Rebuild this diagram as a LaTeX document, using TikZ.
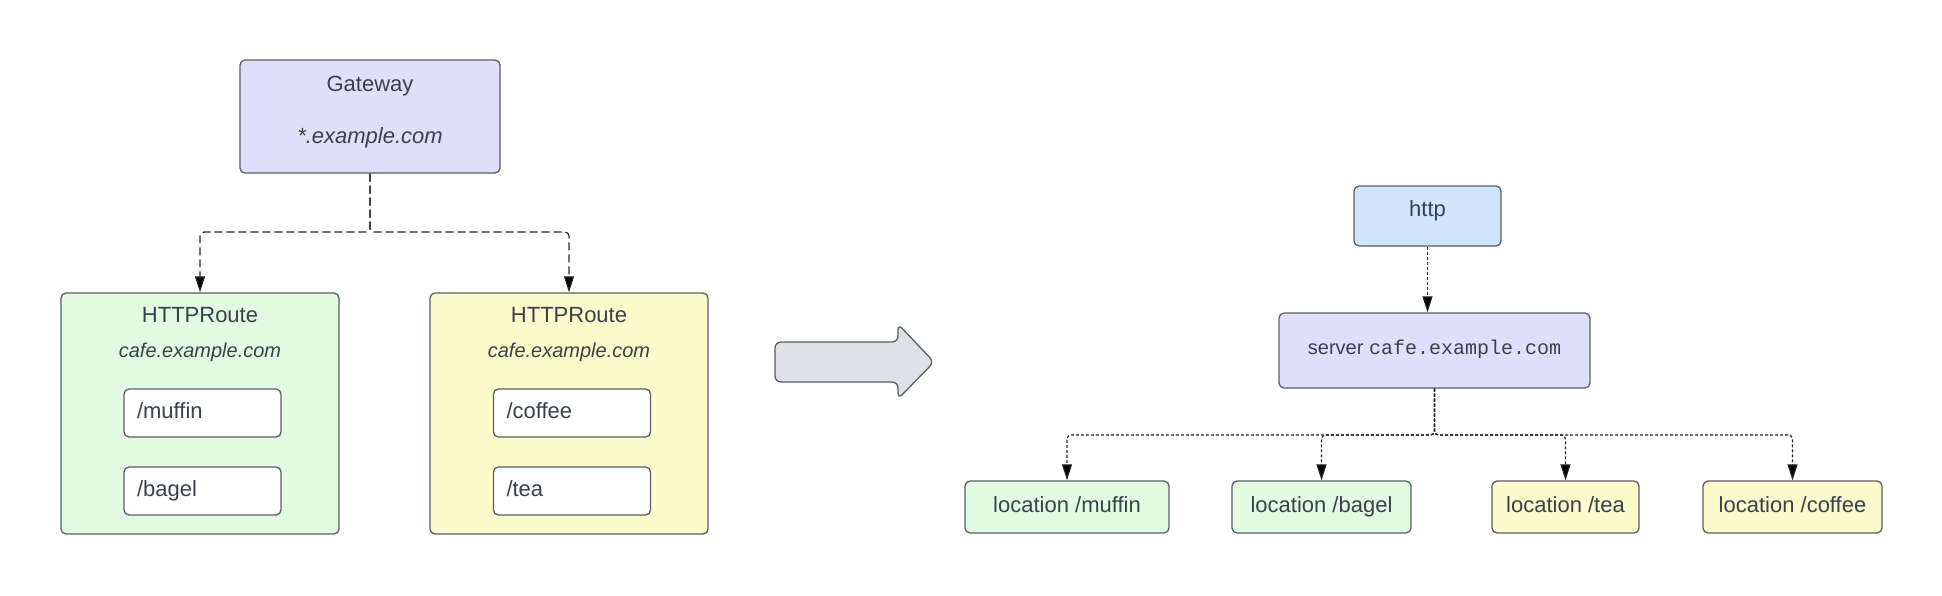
\documentclass[tikz,border=0pt]{standalone}
\usepackage{fontspec}
\setmainfont{Liberation Sans}
\setmonofont{Liberation Mono}
\usetikzlibrary{arrows.meta,positioning}
\definecolor{lavender}{HTML}{DFDFFC}
\definecolor{mint}{HTML}{E2FAE2}
\definecolor{lemon}{HTML}{FBFACB}
\definecolor{sky}{HTML}{CFE4FF}
\definecolor{steel}{HTML}{DFE1E6}
\definecolor{edge}{HTML}{5A5E66}
\definecolor{ink}{HTML}{3A414B}

\begin{document}
\begin{tikzpicture}
[x=0.5pt,y=-0.5pt,
Box/.style={rectangle,rounded corners=2.5pt,draw=edge,line width=0.65pt,text=ink,font=\fontsize{11}{13}\selectfont},
GwNode/.style={Box,fill=lavender,minimum width=130pt,minimum height=56.5pt},
RouteGreen/.style={Box,fill=mint,minimum width=139pt,minimum height=120.5pt},
RouteYellow/.style={Box,fill=lemon,minimum width=139pt,minimum height=120.5pt},
PathNode/.style={Box,fill=white,minimum height=24pt,text width=65.5pt,inner xsep=6.5pt,align=left,text height=8pt,text depth=2.5pt},
HttpNode/.style={Box,fill=sky,minimum width=73.5pt,minimum height=30pt,text height=8pt,text depth=8pt},
ServerNode/.style={Box,fill=lavender,minimum width=155.5pt,minimum height=37.5pt,font=\fontsize{10}{12}\selectfont,text height=7pt,text depth=3.5pt},
LocGreen/.style={Box,fill=mint,minimum height=26pt,text height=8pt,text depth=2.5pt},
LocYellow/.style={Box,fill=lemon,minimum height=26pt,text height=8pt,text depth=2.5pt},
Tag/.style={text=ink,anchor=base,inner sep=0pt,font=\fontsize{11}{13}\selectfont},
Host/.style={Tag,font=\fontsize{10}{12}\selectfont\itshape},
Dash/.style={draw=black!85,line width=0.6pt,dash pattern=on 4pt off 2pt,rounded corners=2pt,-{Triangle[length=8pt,width=5pt,fill=black]}},
Dot/.style={draw=black!85,line width=0.6pt,dash pattern=on 1.5pt off 1pt,rounded corners=2pt,-{Triangle[length=8pt,width=5pt,fill=black]}}]

\useasboundingbox (0,0) rectangle (1942,595);

% Gateway
\node[GwNode] (gw) at (370,116.5) {};
\node[Tag] (gwt) at (370,91) {Gateway};
\node[Host,font=\fontsize{11}{13}\selectfont\itshape] (gwh) at (370,143) {*.example.com};

% HTTPRoute links
\node[RouteGreen] (hr1) at (200,413.5) {};
\node[Tag] (hr1t) at (200,322.7) {HTTPRoute};
\node[Host] (hr1h) at (200,357) {cafe.example.com};
\node[PathNode] (p1) at (202.5,413) {/muffin};
\node[PathNode] (p2) at (202.5,491) {/bagel};

% HTTPRoute rechts
\node[RouteYellow] (hr2) at (569,413.5) {};
\node[Tag] (hr2t) at (569,322.7) {HTTPRoute};
\node[Host] (hr2h) at (569,357) {cafe.example.com};
\node[PathNode] (p3) at (572,413) {/coffee};
\node[PathNode] (p4) at (572,491) {/tea};

\coordinate (gwbus) at (370,232);
\draw[Dash] (gw.south) -- (gwbus) -| (hr1.north);
\draw[Dash] (gw.south) -- (gwbus) -| (hr2.north);

% grosser Pfeil
\draw[fill=steel,draw=edge,line width=0.65pt,rounded corners=3pt]
  (775,342) -- (898,342) -- (898,324) -- (934,362) -- (898,399) -- (898,382) -- (775,382) -- cycle;

% nginx
\node[HttpNode] (http) at (1427.5,216) {http};
\node[ServerNode] (srv) at (1434.5,350.5) {server \texttt{cafe.example.com}};
\draw[Dot] (http.south) -- (http.south |- srv.north);

\node[LocGreen,minimum width=102pt] (l1) at (1067,507) {location /muffin};
\node[LocGreen,minimum width=89.5pt] (l2) at (1321.5,507) {location /bagel};
\node[LocYellow,minimum width=73.5pt] (l3) at (1565.5,507) {location /tea};
\node[LocYellow,minimum width=89.5pt] (l4) at (1792.5,507) {location /coffee};

\coordinate (srvbus) at (1434.5,435);
\draw[Dot] (srv.south) -- (srvbus) -| (l1.north);
\draw[Dot] (srv.south) -- (srvbus) -| (l2.north);
\draw[Dot] (srv.south) -- (srvbus) -| (l3.north);
\draw[Dot] (srv.south) -- (srvbus) -| (l4.north);

\end{tikzpicture}
\end{document}
